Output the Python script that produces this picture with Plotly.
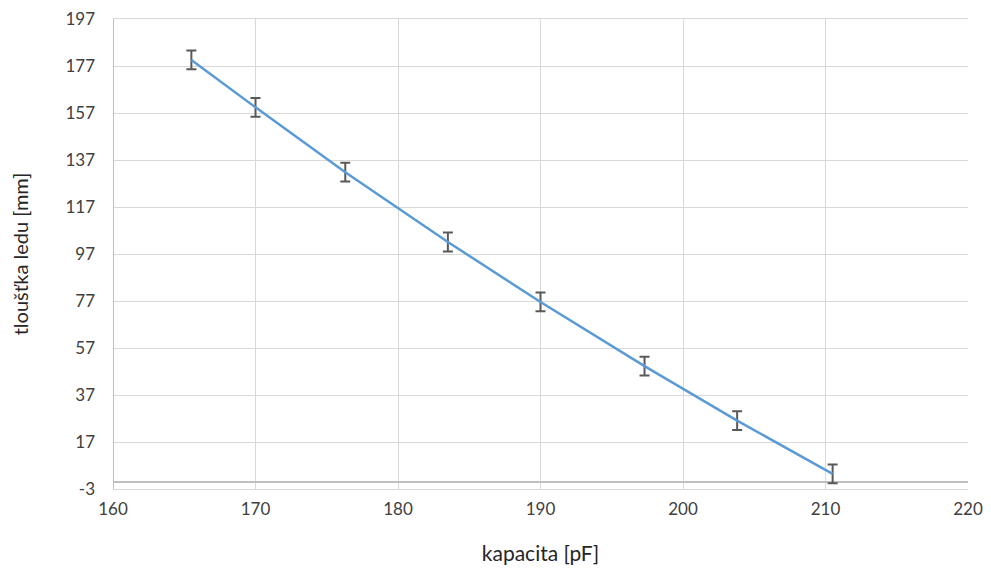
import plotly.graph_objects as go

kapacita = [165.5, 170.0, 176.3, 183.5, 190.0, 197.3, 203.8, 210.5]
tloustka = [179.6, 159.4, 131.8, 102.1, 76.6, 49.3, 26.1, 3.4]
chyba = [4, 4, 4, 4, 4, 4, 4, 4]

y_ticks = [-3, 17, 37, 57, 77, 97, 117, 137, 157, 177, 197]
x_ticks = [160, 170, 180, 190, 200, 210, 220]

fig = go.Figure()
fig.add_trace(go.Scatter(
    x=kapacita, y=tloustka, mode="lines",
    line=dict(color="#5b9bd5", width=2.5),
    error_y=dict(type="data", array=chyba, visible=True, color="#595959", thickness=2, width=5),
    showlegend=False,
))

fig.update_layout(
    width=991, height=572,
    paper_bgcolor="white", plot_bgcolor="white",
    margin=dict(l=105, r=31, t=11, b=91),
    font=dict(family="Lato, Open Sans, sans-serif", color="#404040", size=17),
    xaxis=dict(
        range=[160, 220], tickvals=x_ticks, ticktext=[str(v) for v in x_ticks],
        showgrid=True, gridcolor="#d9d9d9", gridwidth=1,
        showline=True, linecolor="#d9d9d9", linewidth=1, mirror=True,
        zeroline=False, ticks="", ticklen=0, ticklabelstandoff=5,
        ticklabeloverflow="allow", automargin=False,
        title=dict(text="kapacita [pF]", font=dict(size=21, color="#262626"), standoff=27),
        tickfont=dict(size=17, color="#404040"),
    ),
    yaxis=dict(
        range=[-3, 197], tickvals=y_ticks, ticktext=[str(v) for v in y_ticks],
        showgrid=True, gridcolor="#d9d9d9", gridwidth=1,
        showline=False,
        zeroline=True, zerolinecolor="#bfbfbf", zerolinewidth=2,
        ticks="", ticklen=0, ticklabelstandoff=17,
        ticklabeloverflow="allow", automargin=False,
        title=dict(text="tloušťka ledu [mm]", font=dict(size=20, color="#262626"), standoff=33),
        tickfont=dict(size=17, color="#404040"),
    ),
)

fig.add_shape(type="line", xref="x", yref="paper", x0=160, x1=160, y0=0, y1=1,
              line=dict(color="#bfbfbf", width=2))

fig.write_html("out.html")
